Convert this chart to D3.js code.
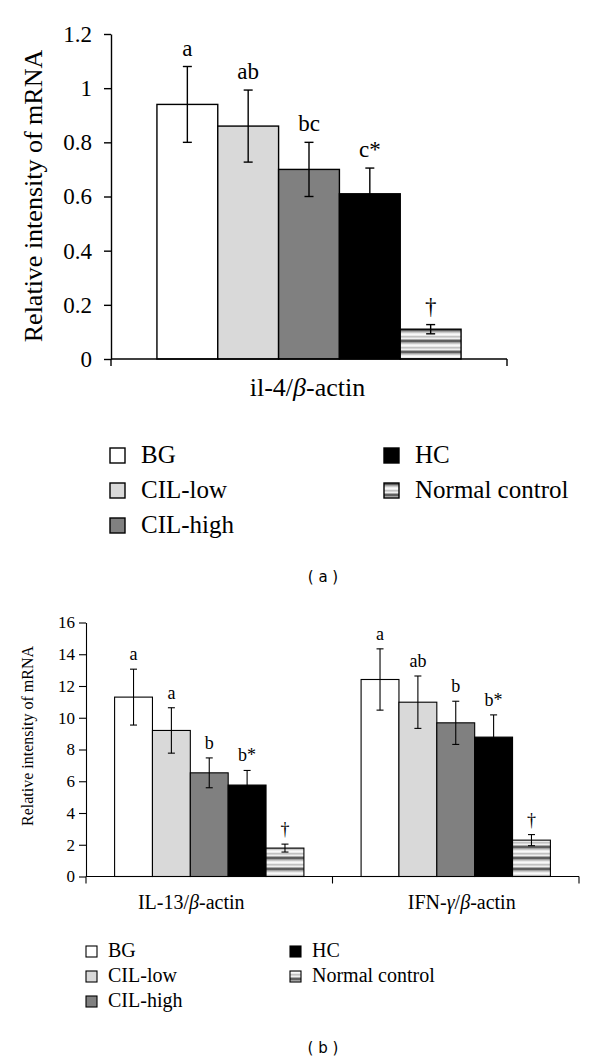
<!DOCTYPE html>
<html>
<head>
<meta charset="utf-8">
<script src="https://cdn.jsdelivr.net/npm/d3@7"></script>
<style>
  body { margin: 0; background: #fff; }
  svg { display: block; }
</style>
</head>
<body>
<div id="chart"></div>
<script>
// groups (legend order) and their fills
const groups = ["BG", "CIL-low", "CIL-high", "HC", "Normal control"];
const groupFills = ["#ffffff", "#d9d9d9", "#808080", "#000000", "url(#stripes)"];

// panel (a): il-4
const aCategories = ["il-4/β-actin"];
const il4Values = [0.94, 0.86, 0.70, 0.61, 0.11];
const il4Errors = [0.14, 0.133, 0.10, 0.095, 0.017];
const il4Letters = ["a", "ab", "bc", "c*", "†"];
const aTicks = [0, 0.2, 0.4, 0.6, 0.8, 1, 1.2];

// panel (b): IL-13 and IFN-γ
const bCategories = ["IL-13/β-actin", "IFN-γ/β-actin"];
const il13Values = [11.3, 9.2, 6.53, 5.76, 1.79];
const il13Errors = [1.76, 1.43, 0.94, 0.92, 0.25];
const il13Letters = ["a", "a", "b", "b*", "†"];
const ifnValues = [12.41, 10.98, 9.68, 8.78, 2.29];
const ifnErrors = [1.93, 1.65, 1.36, 1.4, 0.35];
const ifnLetters = ["a", "ab", "b", "b*", "†"];
const bTicks = [0, 2, 4, 6, 8, 10, 12, 14, 16];

const serif = "'Liberation Serif', serif";
const width = 600, height = 1063;

const svg = d3.select("#chart").append("svg")
    .attr("width", width)
    .attr("height", height);

// striped fill for Normal control
const defs = svg.append("defs");
const grad = defs.append("linearGradient")
    .attr("id", "stripeGrad")
    .attr("x1", 0).attr("y1", 0).attr("x2", 0).attr("y2", 1);
[[0, "#3a3a3a"], [0.12, "#9a9a9a"], [0.3, "#e8e8e8"], [0.45, "#ffffff"],
 [0.6, "#bdbdbd"], [0.78, "#f2f2f2"], [0.9, "#8a8a8a"], [1, "#3a3a3a"]]
    .forEach(([o, c]) => grad.append("stop").attr("offset", o).attr("stop-color", c));
defs.append("pattern")
    .attr("id", "stripes")
    .attr("patternUnits", "userSpaceOnUse")
    .attr("width", 10).attr("height", 11)
    .append("rect")
    .attr("width", 10).attr("height", 11)
    .attr("fill", "url(#stripeGrad)");

function drawPanel(opts) {
    const g = svg.append("g");

    const y = d3.scaleLinear().domain(opts.yDomain).range([opts.y0, opts.y1]);
    const x0 = d3.scaleBand().domain(opts.categories).range([opts.x0, opts.x1]).padding(0);
    const pad = x0.bandwidth() * 0.116;
    const x1 = d3.scaleBand().domain(groups).range([pad, x0.bandwidth() - pad]).padding(0);

    // y axis
    const yAxis = g.append("g")
        .attr("transform", `translate(${opts.x0},0)`)
        .call(d3.axisLeft(y).tickValues(opts.ticks).tickSize(7).tickSizeOuter(0)
            .tickPadding(opts.tickPad).tickFormat(d => String(+d.toFixed(1))));
    yAxis.attr("font-family", serif);
    yAxis.select(".domain").attr("stroke", "#000").attr("stroke-width", opts.lw);
    yAxis.selectAll(".tick line").attr("stroke", "#000").attr("stroke-width", opts.lw);
    yAxis.selectAll("text")
        .attr("font-family", serif)
        .attr("font-size", opts.tickFont + "px")
        .attr("fill", "#000");

    // y axis title
    g.append("text")
        .attr("transform", `translate(${opts.titleX},${opts.titleY}) rotate(-90)`)
        .attr("text-anchor", "middle")
        .attr("font-family", serif)
        .attr("font-size", opts.titleFont + "px")
        .text("Relative intensity of mRNA");

    // bars
    opts.series.forEach((s, ci) => {
        const cat = opts.categories[ci];
        const cg = g.append("g").attr("transform", `translate(${x0(cat)},0)`);
        const rows = groups.map((name, i) => ({ name, v: s.values[i], e: s.errors[i], l: s.letters[i], fill: groupFills[i] }));

        cg.selectAll("rect")
            .data(rows)
            .enter()
            .append("rect")
            .attr("x", d => x1(d.name))
            .attr("y", d => y(d.v))
            .attr("width", x1.bandwidth())
            .attr("height", d => y(0) - y(d.v))
            .attr("fill", d => d.fill)
            .attr("stroke", "#000")
            .attr("stroke-width", opts.lw);

        const eb = cg.selectAll(".err")
            .data(rows)
            .enter()
            .append("g")
            .attr("transform", d => `translate(${x1(d.name) + x1.bandwidth() / 2},0)`);
        eb.append("line")
            .attr("y1", d => y(d.v - d.e)).attr("y2", d => y(d.v + d.e))
            .attr("stroke", "#000").attr("stroke-width", opts.lw);
        eb.append("line")
            .attr("x1", -opts.cap).attr("x2", opts.cap)
            .attr("y1", d => y(d.v + d.e)).attr("y2", d => y(d.v + d.e))
            .attr("stroke", "#000").attr("stroke-width", opts.lw);
        eb.append("line")
            .attr("x1", -opts.cap).attr("x2", opts.cap)
            .attr("y1", d => y(d.v - d.e)).attr("y2", d => y(d.v - d.e))
            .attr("stroke", "#000").attr("stroke-width", opts.lw);
        eb.append("text")
            .attr("y", d => y(d.v + d.e) - opts.letterGap)
            .attr("text-anchor", "middle")
            .attr("font-family", serif)
            .attr("font-size", opts.letterFont + "px")
            .text(d => d.l);
    });

    // x axis line and boundary ticks
    g.append("line")
        .attr("x1", opts.x0).attr("x2", opts.x1)
        .attr("y1", y(0)).attr("y2", y(0))
        .attr("stroke", "#000").attr("stroke-width", opts.lw);
    const edges = opts.categories.map(c => x0(c)).concat([x0.range()[1]]);
    g.selectAll(".edge")
        .data(edges)
        .enter()
        .append("line")
        .attr("x1", d => d).attr("x2", d => d)
        .attr("y1", y(0)).attr("y2", y(0) + 7)
        .attr("stroke", "#000").attr("stroke-width", opts.lw);

    // category labels
    g.selectAll(".cat")
        .data(opts.categories)
        .enter()
        .append("text")
        .attr("x", (d, i) => x0(d) + x0.bandwidth() / 2 + opts.catShift[i])
        .attr("y", opts.catY)
        .attr("text-anchor", "middle")
        .attr("font-family", serif)
        .attr("font-size", opts.catFont + "px")
        .each(function (d) {
            const t = d3.select(this);
            const parts = d.split("β");
            const pre = parts[0];
            if (pre.endsWith("γ/")) {
                t.append("tspan").text(pre.slice(0, -2));
                t.append("tspan").attr("font-style", "italic").text("γ");
                t.append("tspan").text("/");
            } else {
                t.append("tspan").text(pre);
            }
            t.append("tspan").attr("font-style", "italic").text("β");
            t.append("tspan").text(parts[1]);
        });

    // legend
    const lg = g.append("g");
    groups.forEach((name, i) => {
        const col = Math.floor(i / 3), row = i % 3;
        const lx = opts.legX[col], ly = opts.legY + row * opts.legStep;
        lg.append("rect")
            .attr("x", lx)
            .attr("y", ly - opts.box)
            .attr("width", opts.box)
            .attr("height", opts.box)
            .attr("fill", groupFills[i])
            .attr("stroke", "#000")
            .attr("stroke-width", opts.lw);
        lg.append("text")
            .attr("x", lx + opts.box + opts.legGap)
            .attr("y", ly)
            .attr("font-family", serif)
            .attr("font-size", opts.legFont + "px")
            .text(name);
    });

    // panel tag
    g.append("text")
        .attr("x", 323)
        .attr("y", opts.tagY)
        .attr("text-anchor", "middle")
        .attr("font-family", "'DejaVu Sans', sans-serif")
        .attr("font-size", "15px")
        .attr("xml:space", "preserve")
        .text(opts.tag);
}

drawPanel({
    categories: aCategories,
    series: [{ values: il4Values, errors: il4Errors, letters: il4Letters }],
    yDomain: [0, 1.2], ticks: aTicks,
    x0: 111, x1: 507, y0: 359, y1: 34,
    lw: 1.4, cap: 4.5, tickPad: 12, tickFont: 23,
    titleX: 42, titleY: 196, titleFont: 26,
    letterGap: 11, letterFont: 23,
    catY: 396, catFont: 26, catShift: [-1.5],
    legX: [110, 384], legY: 463, legStep: 35, box: 15, legGap: 16, legFont: 25,
    tag: "( a )", tagY: 582
});

drawPanel({
    categories: bCategories,
    series: [
        { values: il13Values, errors: il13Errors, letters: il13Letters },
        { values: ifnValues, errors: ifnErrors, letters: ifnLetters }
    ],
    yDomain: [0, 16], ticks: bTicks,
    x0: 86, x1: 579, y0: 876.5, y1: 622.5,
    lw: 1.1, cap: 3.5, tickPad: 4, tickFont: 17,
    titleX: 33, titleY: 736, titleFont: 16,
    letterGap: 9, letterFont: 18,
    catY: 909, catFont: 20, catShift: [-18, 6],
    legX: [86, 290], legY: 957, legStep: 25, box: 11, legGap: 11, legFont: 20,
    tag: "( b )", tagY: 1053
});
</script>
</body>
</html>
